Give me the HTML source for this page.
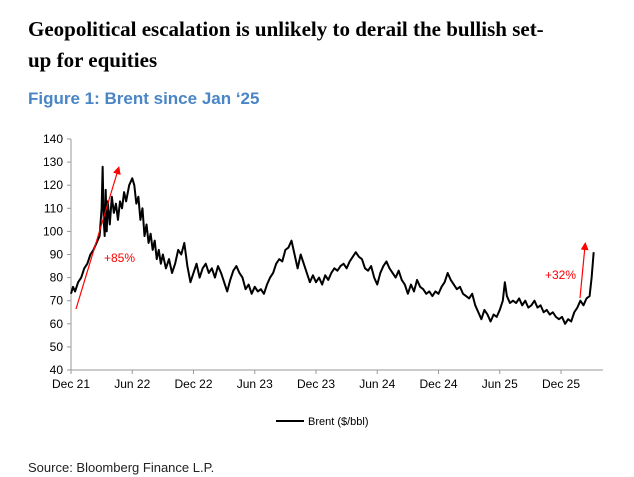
<!DOCTYPE html>
<html><head><meta charset="utf-8"><style>
body{margin:0;background:#fff;width:634px;height:477px;overflow:hidden;position:relative;font-family:"Liberation Sans",sans-serif}
.t{position:absolute;left:28px;font-family:"Liberation Serif",serif;font-weight:bold;font-size:21px;color:#000}
</style></head><body>
<div class="t" style="top:17px">Geopolitical escalation is unlikely to derail the bullish set-</div>
<div class="t" style="top:48px">up for equities</div>
<div style="position:absolute;left:28px;top:89px;font-weight:bold;font-size:17px;color:#4a86c5">Figure 1: Brent since Jan ‘25</div>
<svg id="c" width="634" height="477" style="position:absolute;left:0;top:0"></svg>
<div style="position:absolute;left:28px;top:460px;font-size:13px;color:#222">Source: Bloomberg Finance L.P.</div>
<script>
// months since Dec 2021 (0 = Dec 21)
const months=[
0,0.2,0.4,0.7,1,1.3,1.6,1.9,2.2,2.5,
2.8,3.0,3.1,3.2,3.3,3.4,3.5,3.6,3.8,4.0,
4.2,4.4,4.6,4.8,5.0,5.2,5.4,5.7,6.0,6.2,
6.4,6.6,6.8,7.0,7.2,7.4,7.6,7.8,8.0,8.2,
8.4,8.6,8.8,9.0,9.3,9.6,9.9,10.2,10.5,10.8,
11.1,11.4,11.7,12.0,12.3,12.6,12.9,13.2,13.5,13.8,
14.1,14.4,14.7,15.0,15.3,15.6,15.9,16.2,16.5,16.8,
17.1,17.4,17.7,18.0,18.3,18.6,18.9,19.2,19.5,19.8,
20.1,20.4,20.7,21.0,21.3,21.6,21.9,22.2,22.5,22.8,
23.1,23.4,23.7,24.0,24.3,24.6,24.9,25.2,25.5,25.8,
26.1,26.4,26.7,27.0,27.3,27.6,27.9,28.2,28.5,28.8,
29.1,29.4,29.7,30.0,30.3,30.6,30.9,31.2,31.5,31.8,
32.1,32.4,32.7,33.0,33.3,33.6,33.9,34.2,34.5,34.8,
35.1,35.4,35.7,36.0,36.3,36.6,36.9,37.2,37.5,37.8,
38.1,38.4,38.7,39.0,39.3,39.6,39.9,40.2,40.5,40.8,
41.1,41.4,41.7,42.0,42.3,42.5,42.7,43.0,43.3,43.6,
43.9,44.2,44.5,44.8,45.1,45.4,45.7,46.0,46.3,46.6,
46.9,47.2,47.5,47.8,48.1,48.4,48.7,49.0,49.3,49.6,
49.9,50.2,50.5,50.8,51.0,51.2];
const prices=[
73,76,74,78,80,84,86,90,92,95,
98,110,128,105,98,118,100,113,103,115,
108,112,105,113,110,117,113,120,123,120,
112,115,105,110,98,103,95,99,92,96,
88,92,86,90,84,88,82,86,92,90,
95,85,78,82,86,80,84,86,82,84,
80,85,82,78,74,79,83,85,82,80,
75,77,73,76,74,75,73,77,80,82,
86,88,87,92,93,96,90,84,90,86,
82,78,81,78,80,77,81,79,82,84,
83,85,86,84,87,89,91,89,88,84,
83,85,80,77,82,85,87,84,82,80,
83,79,77,73,77,74,79,76,75,73,
74,72,74,73,76,78,82,79,77,75,
76,73,72,71,73,68,65,62,66,64,
61,64,63,66,70,78,72,69,70,69,
71,68,70,67,68,70,67,68,65,66,
64,65,63,62,63,60,62,61,65,67,
70,68,71,72,80,91];
const yTicks=[40,50,60,70,80,90,100,110,120,130,140];
const xLabels=["Dec 21","Jun 22","Dec 22","Jun 23","Dec 23","Jun 24","Dec 24","Jun 25","Dec 25"];
const xTickMonths=[0,6,12,18,24,30,36,42,48];
const X0=71,X1=603,Y0=370,Y1=139,pxPerMonth=(561-71)/48;
const xs=m=>X0+m*pxPerMonth, ys=v=>Y0-(v-40)*(Y0-Y1)/100;
const svg=document.getElementById('c'),NS='http://www.w3.org/2000/svg';
function mk(t,a,txt){const e=document.createElementNS(NS,t);for(const k in a)e.setAttribute(k,a[k]);if(txt!=null)e.textContent=txt;svg.appendChild(e);return e;}
let e;
e=mk('line',{x1:X0,y1:Y1,x2:X0,y2:Y0,stroke:'#999','stroke-width':1});


e=mk('line',{x1:X0,y1:Y0,x2:X1,y2:Y0,stroke:'#999','stroke-width':1});


yTicks.forEach(v=>{
 e=mk('line',{x1:X0-4,y1:ys(v),x2:X0,y2:ys(v),stroke:'#999'});
 
 
 e=mk('text',{x:X0-8,y:ys(v)+4,'text-anchor':'end','font-size':12,fill:'#000'},v);
 
 
});
xTickMonths.forEach((m,i)=>{
 e=mk('line',{x1:xs(m),y1:Y0,x2:xs(m),y2:Y0+4,stroke:'#999'});
 
 
 e=mk('text',{x:xs(m),y:Y0+18,'text-anchor':'middle','font-size':12,fill:'#000'},xLabels[i]);
 
 
});
const n=Math.min(months.length,prices.length);
let pts=[];for(let i=0;i<n;i++)pts.push(xs(months[i])+','+ys(prices[i]));
e=mk('polyline',{points:pts.join(' '),fill:'none',stroke:'#000','stroke-width':2,'stroke-linejoin':'round'});


mk('defs',{}).innerHTML='<marker id="ah" markerWidth="8" markerHeight="8" refX="4" refY="4" orient="auto" markerUnits="userSpaceOnUse"><path d="M0,0 L8,4 L0,8 z" fill="#f00"/></marker>';
e=mk('line',{x1:76,y1:309,x2:118,y2:170,stroke:'#f00','stroke-width':1.2,'marker-end':'url(#ah)'});


e=mk('text',{x:104,y:262,'font-size':12,fill:'#f00'},'+85%');


e=mk('line',{x1:580,y1:298,x2:585,y2:246,stroke:'#f00','stroke-width':1.2,'marker-end':'url(#ah)'});


e=mk('text',{x:545,y:279,'font-size':12,fill:'#f00'},'+32%');


e=mk('line',{x1:276,y1:421,x2:304,y2:421,stroke:'#000','stroke-width':2});


e=mk('text',{x:308,y:425,'font-size':11,fill:'#000'},'Brent ($/bbl)');


</script>
</body></html>
